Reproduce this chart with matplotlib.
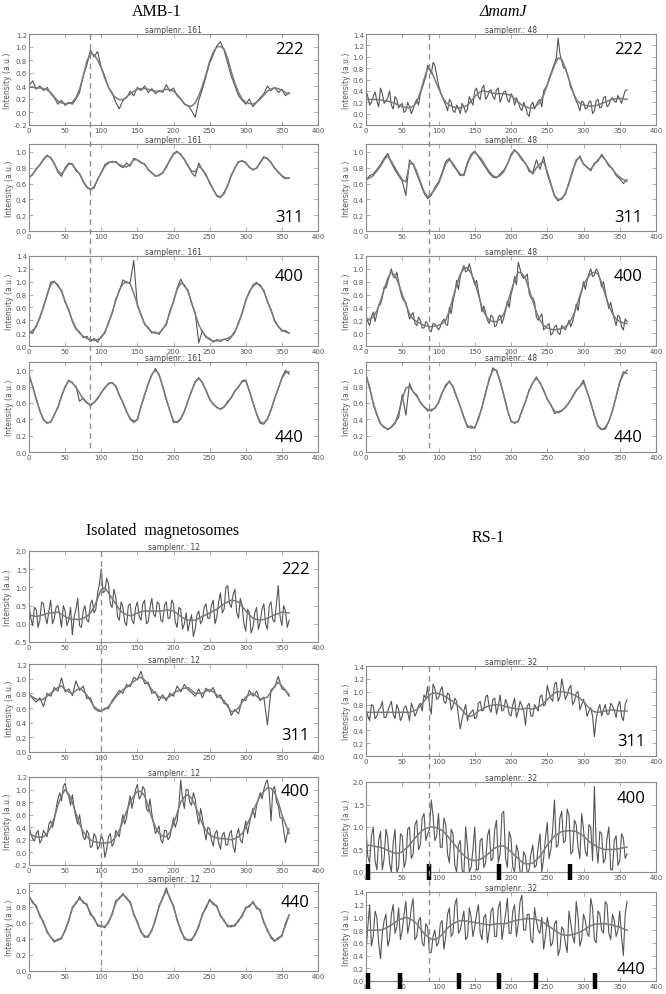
import numpy as np
import matplotlib
matplotlib.use('Agg')
import matplotlib.pyplot as plt
from matplotlib.lines import Line2D
from matplotlib.ticker import FuncFormatter, MultipleLocator

plt.rcParams['font.family'] = ['DejaVu Sans']
plt.rcParams['axes.unicode_minus'] = False

# ---------------- data (angle 0..360, noisy every 5 deg, fit every 5 deg) ----------------
# "_mid" arrays are the noisy samples in between (2.5, 7.5, ... 357.5 deg)

# AMB-1, samplenr.: 161
amb_222 = [0.40,0.48,0.35,0.40,0.33,0.38,0.28,0.22,0.12,0.18, 0.10,0.15,0.12,0.20,0.30,0.55,0.72,0.95,0.85,0.93,
           0.68,0.55,0.38,0.30,0.15,0.05,0.18,0.22,0.32,0.25, 0.38,0.33,0.40,0.30,0.36,0.28,0.33,0.30,0.42,0.32,
           0.37,0.25,0.20,0.12,0.10,0.02,-0.08,0.18,0.35,0.55, 0.75,0.88,1.02,1.08,0.95,0.75,0.55,0.40,0.25,0.18,
           0.12,0.20,0.08,0.15,0.22,0.28,0.40,0.33,0.38,0.30, 0.35,0.25,0.30]
amb_222_fit = [0.38,0.38,0.37,0.37,0.36,0.34,0.30,0.23,0.17,0.14, 0.13,0.13,0.15,0.22,0.35,0.55,0.78,0.90,0.88,0.80,
               0.68,0.52,0.38,0.28,0.22,0.19,0.19,0.23,0.28,0.32, 0.35,0.36,0.36,0.35,0.33,0.32,0.32,0.33,0.35,0.34,
               0.32,0.27,0.20,0.13,0.09,0.09,0.14,0.25,0.40,0.58, 0.78,0.92,1.00,1.01,0.97,0.82,0.62,0.44,0.30,0.20,
               0.15,0.13,0.12,0.15,0.20,0.26,0.32,0.35,0.37,0.36, 0.33,0.30,0.28]
amb_311 = [0.68,0.71,0.79,0.83,0.91,0.96,0.92,0.86,0.74,0.69, 0.80,0.86,0.85,0.76,0.73,0.62,0.55,0.53,0.54,0.66,
           0.73,0.84,0.87,0.87,0.88,0.83,0.80,0.86,0.82,0.92, 0.90,0.86,0.85,0.77,0.74,0.69,0.71,0.73,0.82,0.89,
           0.98,1.01,0.96,0.91,0.83,0.74,0.69,0.86,0.77,0.72, 0.60,0.53,0.44,0.42,0.49,0.57,0.71,0.79,0.88,0.88,
           0.87,0.80,0.78,0.79,0.87,0.94,0.91,0.87,0.79,0.75, 0.69,0.66,0.67]
amb_311_fit = [0.67,0.72,0.78,0.84,0.90,0.95,0.93,0.85,0.76,0.72, 0.78,0.85,0.84,0.78,0.72,0.63,0.56,0.52,0.56,0.65,
               0.74,0.82,0.86,0.88,0.87,0.84,0.82,0.81,0.84,0.90, 0.90,0.87,0.84,0.78,0.73,0.70,0.70,0.74,0.80,0.90,
               0.97,1.00,0.97,0.90,0.82,0.76,0.75,0.82,0.78,0.70, 0.62,0.52,0.45,0.43,0.47,0.58,0.70,0.80,0.87,0.89,
               0.86,0.81,0.77,0.80,0.86,0.93,0.92,0.86,0.80,0.74, 0.70,0.67,0.67]
amb_400 = [0.22,0.20,0.32,0.43,0.62,0.78,0.99,1.01,0.93,0.87, 0.68,0.57,0.38,0.26,0.22,0.13,0.15,0.07,0.12,0.06,
           0.15,0.20,0.37,0.50,0.73,0.85,1.03,0.98,0.99,1.33, 0.62,0.50,0.33,0.29,0.20,0.22,0.18,0.27,0.33,0.55,
           0.68,0.90,1.04,0.93,0.87,0.66,0.52,0.05,0.24,0.13, 0.12,0.06,0.10,0.07,0.11,0.08,0.14,0.21,0.37,0.50,
           0.72,0.83,0.95,0.99,0.93,0.87,0.68,0.57,0.38,0.31, 0.23,0.24,0.20]
amb_400_fit = [0.20,0.24,0.30,0.45,0.60,0.80,0.95,1.00,0.95,0.85, 0.70,0.55,0.40,0.28,0.20,0.15,0.12,0.10,0.09,0.10,
               0.13,0.22,0.35,0.52,0.70,0.87,0.97,1.00,0.97,0.82, 0.65,0.48,0.35,0.27,0.22,0.20,0.20,0.26,0.35,0.52,
               0.70,0.88,0.98,0.95,0.85,0.68,0.50,0.33,0.22,0.15, 0.10,0.08,0.08,0.09,0.10,0.12,0.15,0.23,0.35,0.52,
               0.70,0.85,0.93,0.97,0.95,0.85,0.70,0.55,0.40,0.30, 0.25,0.22,0.20]
amb_440 = [0.93,0.81,0.64,0.51,0.39,0.36,0.36,0.46,0.54,0.69, 0.79,0.88,0.84,0.80,0.62,0.66,0.61,0.56,0.61,0.65,
           0.73,0.78,0.84,0.85,0.81,0.69,0.61,0.49,0.41,0.38, 0.39,0.56,0.69,0.84,0.94,1.02,0.94,0.81,0.64,0.51,
           0.36,0.37,0.41,0.49,0.63,0.74,0.86,0.91,0.84,0.76, 0.64,0.59,0.54,0.53,0.55,0.62,0.66,0.75,0.79,0.87,
           0.88,0.74,0.61,0.46,0.35,0.34,0.41,0.51,0.66,0.77, 0.91,1.00,0.95]
amb_440_fit = [0.95,0.80,0.65,0.50,0.40,0.35,0.37,0.45,0.55,0.68, 0.80,0.87,0.85,0.79,0.72,0.65,0.60,0.58,0.60,0.66,
               0.72,0.79,0.83,0.85,0.80,0.70,0.60,0.50,0.40,0.36, 0.40,0.55,0.70,0.83,0.95,1.00,0.95,0.80,0.65,0.50,
               0.38,0.36,0.40,0.50,0.62,0.75,0.85,0.90,0.85,0.75, 0.65,0.58,0.55,0.52,0.55,0.60,0.67,0.74,0.80,0.86,
               0.87,0.75,0.60,0.47,0.37,0.35,0.40,0.52,0.65,0.78, 0.90,0.97,0.98]

# dmamJ, samplenr.: 48
mamj_222 = [0.40,0.15,0.30,0.22,0.45,0.18,0.28,0.15,0.30,0.10, 0.18,0.05,0.12,0.08,0.25,0.35,0.55,0.85,0.70,0.85,
            0.50,0.30,0.15,0.25,0.05,0.15,0.00,0.12,0.08,0.22, 0.40,0.30,0.45,0.25,0.40,0.30,0.42,0.20,0.38,0.25,
            0.35,0.15,0.20,0.05,0.12,-0.05,0.20,0.15,0.25,0.40, 0.50,0.70,0.88,1.33,0.92,0.80,0.60,0.40,0.22,0.05,
            0.20,0.10,0.22,0.05,0.25,0.12,0.30,0.15,0.28,0.20, 0.25,0.30,0.42]
mamj_222_mid = [0.30,0.20,0.38,0.12,0.35,0.22,0.40,0.08,0.25,0.15, 0.02,0.20,0.00,0.18,0.15,0.45,0.65,0.80,0.90,0.68,
                0.40,0.22,0.05,0.20,0.02,0.10,0.18,0.02,0.30,0.15, 0.45,0.25,0.50,0.30,0.42,0.25,0.45,0.30,0.40,0.20,
                0.30,0.28,0.10,0.20,0.00,0.15,0.08,0.22,0.12,0.45, 0.62,0.80,0.98,1.05,0.80,0.70,0.45,0.30,0.15,0.22,
                0.08,0.20,0.00,0.22,0.10,0.28,0.12,0.25,0.22,0.32, 0.18,0.40]
mamj_222_fit = [0.25,0.25,0.25,0.25,0.24,0.23,0.22,0.20,0.18,0.15, 0.12,0.11,0.10,0.13,0.20,0.38,0.60,0.80,0.75,0.60,
                0.45,0.30,0.20,0.15,0.12,0.10,0.10,0.12,0.15,0.22, 0.30,0.36,0.40,0.39,0.38,0.36,0.35,0.35,0.35,0.34,
                0.32,0.26,0.20,0.15,0.12,0.10,0.10,0.14,0.20,0.33, 0.50,0.68,0.85,0.98,0.95,0.80,0.60,0.40,0.25,0.18,
                0.15,0.14,0.13,0.14,0.15,0.18,0.20,0.23,0.25,0.26, 0.27,0.26,0.25]
mamj_311 = [0.64,0.70,0.72,0.78,0.84,0.92,0.98,0.86,0.77,0.70, 0.63,0.45,0.90,0.84,0.72,0.60,0.48,0.41,0.45,0.55,
            0.62,0.74,0.88,0.92,0.83,0.77,0.70,0.72,0.87,0.97, 1.01,0.94,0.87,0.80,0.73,0.68,0.67,0.72,0.77,0.84,
            0.97,1.03,0.97,0.90,0.86,0.75,0.74,0.90,0.78,0.94, 0.72,0.58,0.44,0.38,0.42,0.46,0.62,0.77,0.88,0.95,
            0.84,0.81,0.76,0.86,0.88,0.97,0.90,0.82,0.79,0.70, 0.66,0.60,0.65]
mamj_311_fit = [0.65,0.67,0.70,0.76,0.82,0.90,0.95,0.88,0.80,0.72, 0.65,0.62,0.85,0.85,0.75,0.62,0.50,0.43,0.47,0.53,
                0.60,0.72,0.85,0.90,0.85,0.78,0.72,0.70,0.85,0.95, 1.00,0.95,0.90,0.82,0.75,0.70,0.68,0.70,0.75,0.85,
                0.95,1.02,0.98,0.92,0.85,0.78,0.72,0.80,0.85,0.88, 0.75,0.60,0.45,0.40,0.40,0.48,0.60,0.75,0.90,0.93,
                0.85,0.80,0.78,0.84,0.90,0.95,0.90,0.84,0.78,0.72, 0.68,0.65,0.63]
mamj_400 = [0.28,0.12,0.33,0.30,0.45,0.72,0.80,1.00,0.86,0.80, 0.55,0.48,0.22,0.32,0.12,0.20,0.08,0.15,0.02,0.14,
            0.05,0.18,0.14,0.40,0.50,0.82,0.88,1.05,0.98,0.97, 0.75,0.65,0.33,0.32,0.15,0.25,0.12,0.28,0.24,0.50,
            0.60,0.88,1.10,0.90,0.88,0.62,0.55,0.25,0.25,0.05, 0.12,-0.03,0.10,0.00,0.12,0.05,0.20,0.18,0.45,0.55,
            0.80,0.82,1.00,0.90,0.95,0.72,0.65,0.38,0.35,0.12, 0.25,0.05,0.18]
mamj_400_mid = [0.18,0.25,0.18,0.42,0.55,0.70,0.90,0.88,0.95,0.65, 0.50,0.35,0.28,0.15,0.25,0.08,0.18,0.05,0.15,0.10,
                0.10,0.22,0.12,0.30,0.62,0.68,0.98,0.95,1.08,0.85, 0.82,0.50,0.42,0.20,0.28,0.10,0.25,0.15,0.35,0.40,
                0.70,0.75,1.00,0.85,0.92,0.55,0.48,0.20,0.30,0.08, 0.15,0.00,0.12,-0.02,0.08,0.12,0.10,0.30,0.35,0.65,
                0.68,0.92,0.88,1.00,0.85,0.80,0.50,0.48,0.22,0.28, 0.10,0.22]
mamj_400_fit = [0.20,0.22,0.25,0.35,0.50,0.68,0.85,0.95,0.90,0.77, 0.60,0.45,0.30,0.22,0.18,0.15,0.12,0.11,0.10,0.11,
                0.12,0.15,0.20,0.35,0.55,0.75,0.92,1.00,1.02,0.93, 0.80,0.60,0.40,0.28,0.20,0.18,0.18,0.22,0.30,0.45,
                0.65,0.82,0.95,0.93,0.85,0.68,0.50,0.33,0.20,0.12, 0.08,0.06,0.05,0.06,0.07,0.10,0.15,0.25,0.40,0.58,
                0.75,0.85,0.92,0.95,0.92,0.78,0.60,0.43,0.30,0.22, 0.18,0.16,0.15]
mamj_440 = [0.93,0.80,0.58,0.45,0.34,0.31,0.27,0.31,0.36,0.42, 0.70,0.45,0.84,0.73,0.70,0.60,0.56,0.50,0.52,0.53,
            0.61,0.73,0.80,0.87,0.79,0.67,0.56,0.43,0.30,0.32, 0.29,0.42,0.54,0.73,0.88,1.03,0.99,0.87,0.69,0.52,
            0.37,0.36,0.37,0.51,0.61,0.76,0.84,0.92,0.84,0.76, 0.64,0.58,0.47,0.49,0.51,0.54,0.61,0.67,0.76,0.80,
            0.88,0.73,0.61,0.44,0.31,0.27,0.30,0.37,0.51,0.67, 0.86,0.98,0.96]
mamj_440_fit = [0.95,0.78,0.60,0.46,0.35,0.30,0.28,0.30,0.35,0.48, 0.65,0.78,0.80,0.74,0.68,0.61,0.55,0.52,0.50,0.54,
                0.60,0.72,0.82,0.86,0.80,0.68,0.55,0.42,0.32,0.29, 0.30,0.40,0.55,0.72,0.90,1.00,1.00,0.86,0.70,0.52,
                0.38,0.35,0.38,0.50,0.62,0.75,0.85,0.90,0.85,0.75, 0.65,0.57,0.50,0.48,0.50,0.55,0.60,0.68,0.75,0.80,
                0.85,0.74,0.60,0.45,0.32,0.28,0.28,0.38,0.50,0.68, 0.85,0.95,1.00]

# Isolated magnetosomes, samplenr.: 12
iso_222 = [0.55,-0.05,0.40,0.10,0.55,0.00,0.65,0.15,0.50,-0.10, 0.35,0.10,-0.30,0.40,-0.05,0.35,0.10,0.55,0.30,0.85,
           1.50,0.90,1.10,0.45,0.75,0.10,0.45,-0.05,0.55,0.00, 0.60,0.10,0.65,0.05,0.70,0.20,0.55,0.05,0.60,0.15,
           0.55,-0.10,0.40,0.00,-0.20,0.25,-0.15,0.35,0.10,0.55, 0.15,0.65,0.20,0.85,0.40,1.05,0.45,0.95,0.15,0.50,
           -0.20,0.30,-0.10,0.45,0.05,0.55,-0.15,0.60,0.05,1.05, -0.05,0.35,0.10]
iso_222_mid = [0.15,0.45,-0.10,0.60,0.20,0.35,0.00,0.45,0.25,0.50, -0.05,0.45,0.20,0.70,-0.10,0.50,0.05,0.65,0.40,1.10,
               0.85,1.25,0.55,0.95,0.20,0.60,0.05,0.50,0.10,0.45, 0.20,0.55,0.00,0.45,0.25,0.60,0.10,0.50,0.15,0.65,
               0.05,0.45,-0.15,0.30,0.05,-0.35,0.25,0.00,0.45,0.15, 0.50,0.00,0.60,0.30,1.00,0.55,0.80,0.30,0.70,0.00,
               0.40,-0.25,0.30,-0.15,0.40,0.00,0.50,0.10,0.55,0.20, 0.50,-0.10]
iso_222_fit = [0.25,0.22,0.20,0.22,0.25,0.28,0.30,0.31,0.32,0.26, 0.20,0.15,0.12,0.12,0.12,0.15,0.20,0.30,0.45,0.70,
               0.95,1.00,0.85,0.70,0.55,0.40,0.30,0.25,0.22,0.25, 0.30,0.33,0.35,0.35,0.35,0.35,0.35,0.36,0.38,0.37,
               0.35,0.28,0.20,0.14,0.10,0.10,0.10,0.15,0.20,0.25, 0.30,0.35,0.40,0.48,0.55,0.60,0.65,0.63,0.60,0.48,
               0.35,0.25,0.15,0.12,0.10,0.12,0.15,0.20,0.25,0.28, 0.32,0.31,0.30]
iso_311 = [0.80,0.73,0.68,0.74,0.62,0.80,0.76,0.88,0.83,1.01, 0.82,0.86,0.77,0.97,0.84,0.90,0.73,0.74,0.60,0.56,
           0.55,0.60,0.59,0.70,0.77,0.84,0.80,0.92,0.89,1.02, 0.98,1.10,0.93,0.95,0.80,0.82,0.70,0.78,0.70,0.80,
           0.76,0.90,0.82,0.92,0.85,0.81,0.76,0.86,0.74,0.87, 0.82,0.88,0.74,0.78,0.66,0.65,0.50,0.58,0.52,0.72,
           0.70,0.84,0.76,0.83,0.70,0.75,0.37,0.85,0.88,1.03, 0.86,0.84,0.76]
iso_311_fit = [0.78,0.75,0.72,0.71,0.72,0.76,0.80,0.84,0.88,0.90, 0.85,0.82,0.80,0.84,0.87,0.83,0.78,0.70,0.62,0.58,
               0.56,0.58,0.62,0.68,0.75,0.80,0.85,0.88,0.92,0.96, 1.00,1.02,0.98,0.92,0.85,0.80,0.75,0.74,0.73,0.76,
               0.80,0.83,0.85,0.87,0.88,0.84,0.80,0.80,0.80,0.83, 0.85,0.82,0.78,0.74,0.70,0.62,0.55,0.56,0.60,0.68,
               0.75,0.78,0.80,0.76,0.72,0.73,0.75,0.82,0.90,0.95, 0.90,0.84,0.78]
iso_400 = [0.40,0.22,0.30,0.15,0.35,0.25,0.50,0.52,0.85,0.82, 1.10,0.90,0.92,0.55,0.60,0.25,0.35,0.08,0.30,0.05,
           0.28,-0.08,0.25,0.10,0.35,0.25,0.60,0.55,0.90,0.85, 1.08,0.90,1.00,0.65,0.62,0.30,0.42,0.15,0.35,0.25,
           0.55,0.50,1.15,0.70,1.00,0.75,0.85,0.45,0.55,0.20, 0.38,0.10,0.35,0.05,0.32,0.12,0.35,0.00,0.38,0.15,
           0.50,0.45,0.70,0.75,0.95,1.00,1.15,0.50,1.05,0.75, 0.55,0.15,0.38]
iso_400_mid = [0.30,0.18,0.35,0.20,0.30,0.45,0.40,0.70,0.95,1.05, 0.95,0.75,0.70,0.45,0.40,0.20,0.30,0.10,0.25,0.10,
               0.20,0.05,0.30,0.15,0.30,0.45,0.45,0.75,0.70,1.00, 0.85,1.05,0.70,0.85,0.45,0.35,0.20,0.35,0.20,0.40,
               0.40,0.75,0.85,1.00,0.80,0.95,0.60,0.70,0.35,0.40, 0.20,0.30,0.15,0.28,0.12,0.30,0.10,0.28,0.20,0.35,
               0.30,0.60,0.55,0.85,0.85,1.10,0.95,1.00,0.80,0.55, 0.35,0.30]
iso_400_fit = [0.30,0.27,0.25,0.24,0.25,0.30,0.40,0.55,0.75,0.90, 1.00,0.93,0.80,0.62,0.45,0.33,0.25,0.20,0.17,0.16,
               0.15,0.15,0.15,0.18,0.25,0.35,0.50,0.65,0.80,0.90, 0.97,0.97,0.90,0.73,0.55,0.40,0.30,0.26,0.25,0.32,
               0.45,0.62,0.80,0.88,0.92,0.86,0.75,0.60,0.45,0.35, 0.28,0.25,0.23,0.22,0.22,0.21,0.20,0.22,0.25,0.30,
               0.40,0.52,0.65,0.78,0.90,0.97,1.03,1.02,0.95,0.80, 0.60,0.45,0.30]
iso_440 = [0.95,0.85,0.82,0.68,0.62,0.48,0.43,0.36,0.40,0.40, 0.52,0.62,0.80,0.84,0.93,0.85,0.84,0.70,0.67,0.56,
           0.57,0.54,0.62,0.70,0.88,0.90,0.97,0.90,0.87,0.70, 0.62,0.48,0.44,0.42,0.52,0.63,0.82,0.90,1.04,0.90,
           0.82,0.63,0.52,0.40,0.39,0.38,0.47,0.55,0.72,0.78, 0.90,0.83,0.82,0.68,0.64,0.55,0.57,0.56,0.64,0.68,
           0.80,0.80,0.87,0.78,0.77,0.60,0.52,0.41,0.37,0.42, 0.43,0.60,0.70]
iso_440_fit = [0.92,0.87,0.80,0.70,0.60,0.50,0.42,0.38,0.38,0.42, 0.50,0.64,0.78,0.86,0.90,0.87,0.82,0.73,0.65,0.58,
               0.55,0.56,0.60,0.72,0.85,0.92,0.95,0.92,0.85,0.72, 0.60,0.50,0.42,0.44,0.50,0.65,0.80,0.92,1.00,0.92,
               0.80,0.65,0.50,0.42,0.38,0.40,0.45,0.57,0.70,0.80, 0.88,0.85,0.80,0.70,0.62,0.57,0.55,0.58,0.62,0.70,
               0.78,0.82,0.85,0.80,0.75,0.62,0.50,0.43,0.38,0.40, 0.45,0.57,0.70]

# RS-1, samplenr.: 32
rs_311 = [0.72,0.55,0.78,0.62,0.75,0.60,0.70,0.85,0.58,0.72, 0.62,0.78,0.55,0.74,0.68,0.82,0.95,1.08,0.65,1.05,
          0.90,1.08,0.82,0.95,0.78,0.85,0.42,0.70,0.55,0.68, 0.58,0.82,0.70,0.92,0.75,0.88,0.65,0.95,0.72,0.80,
          0.62,0.90,0.70,0.78,0.48,0.82,0.62,0.75,0.92,0.78, 1.10,0.90,1.12,0.85,1.20,0.88,1.05,0.80,0.98,0.72,
          0.88,0.62,0.75,0.30,0.72,0.62,0.80,0.65,0.78,0.60, 0.85,0.55,0.88]
rs_311_mid = [0.62,0.80,0.58,0.72,0.85,0.60,0.78,0.65,0.80,0.55, 0.75,0.68,0.82,0.62,0.78,0.70,0.90,0.80,1.12,0.88,
              1.02,0.85,0.98,0.72,0.90,0.62,0.58,0.80,0.65,0.72, 0.60,0.85,0.72,0.95,0.68,0.90,0.78,0.70,0.88,0.65,
              0.80,0.60,0.85,0.70,0.78,0.62,0.80,0.70,0.95,0.80, 0.98,0.85,1.15,0.92,1.05,0.95,1.10,0.85,1.00,0.80,
              0.78,0.70,0.62,0.58,0.80,0.72,0.65,0.82,0.70,0.78, 0.62,0.80]
rs_311_fit = [0.68,0.68,0.68,0.68,0.68,0.68,0.68,0.68,0.68,0.68, 0.68,0.68,0.68,0.70,0.72,0.78,0.85,0.92,0.97,0.98,
              0.97,0.95,0.92,0.88,0.85,0.80,0.75,0.68,0.62,0.62, 0.65,0.70,0.73,0.76,0.78,0.79,0.80,0.79,0.78,0.76,
              0.75,0.74,0.73,0.73,0.74,0.74,0.73,0.75,0.78,0.82, 0.88,0.93,0.98,1.00,1.00,0.99,0.98,0.96,0.93,0.90,
              0.85,0.78,0.72,0.69,0.68,0.69,0.70,0.71,0.72,0.71, 0.70,0.70,0.70]
rs_400 = [0.95,0.20,1.00,0.05,0.90,0.30,0.75,0.00,0.95,0.10, 0.80,0.25,1.00,0.40,1.15,0.60,1.30,0.85,1.60,0.70,
          1.30,0.55,1.05,0.20,0.85,0.00,0.70,-0.05,0.55,0.10, 1.00,0.05,0.75,0.20,0.95,0.30,1.15,0.40,1.35,0.10,
          0.75,0.00,0.45,-0.05,0.35,0.05,0.60,0.15,0.85,0.30, 1.10,0.50,1.60,0.60,1.35,0.70,1.25,0.45,1.05,0.30,
          0.95,0.35,1.00,1.90,0.20,0.85,0.30,1.00,0.05,0.80, 0.25,0.75,0.40]
rs_400_mid = [0.35,0.80,0.25,0.70,0.05,0.95,0.20,0.65,0.00,0.85, 0.10,0.95,0.30,1.05,0.50,1.20,0.70,0.95,1.25,0.80,
              0.55,1.20,0.40,0.95,0.15,0.60,0.05,1.00,0.00,0.50, 0.05,0.70,0.10,0.80,0.25,0.95,0.20,1.30,0.30,0.90,
              0.10,0.60,0.00,0.45,-0.05,0.40,0.10,0.55,0.00,0.75, 0.30,0.95,0.55,1.20,0.65,1.40,0.40,1.15,0.55,1.30,
              0.45,1.05,0.25,0.60,0.90,0.20,0.75,0.05,0.70,0.15, 0.85,0.30]
rs_400_fit = [0.60,0.59,0.58,0.56,0.55,0.52,0.48,0.45,0.42,0.42, 0.45,0.52,0.60,0.70,0.80,0.88,0.95,0.98,1.00,0.99,
              0.97,0.92,0.85,0.75,0.65,0.55,0.45,0.37,0.30,0.27, 0.25,0.27,0.30,0.36,0.42,0.50,0.55,0.58,0.58,0.52,
              0.45,0.37,0.30,0.22,0.18,0.18,0.20,0.27,0.35,0.47, 0.60,0.70,0.80,0.85,0.90,0.91,0.92,0.91,0.90,0.85,
              0.80,0.72,0.65,0.60,0.55,0.52,0.50,0.50,0.50,0.51, 0.52,0.54,0.55]
rs_440 = [0.45,1.20,0.70,1.00,0.35,0.95,0.55,1.05,0.75,1.15, 0.80,1.25,0.90,1.30,0.70,1.00,0.55,0.85,0.45,0.80,
          0.60,0.95,0.70,1.15,0.75,1.30,0.80,1.10,0.70,1.00, 0.85,1.20,0.65,1.05,0.80,1.15,0.70,1.25,0.85,1.30,
          0.75,1.20,0.90,1.35,0.80,1.05,0.60,0.95,0.75,0.50, 1.00,0.55,0.90,0.40,0.85,0.60,1.10,0.70,1.25,0.55,
          1.05,0.75,1.30,0.65,1.10,0.80,1.25,0.75,1.05,0.70, 1.10,0.40,1.25]
rs_440_mid = [0.85,0.55,1.10,0.60,0.75,1.05,0.65,1.20,0.85,0.65, 1.05,0.75,1.15,0.65,0.95,0.60,0.90,0.45,0.70,0.55,
              0.90,0.50,1.05,0.70,1.20,0.75,0.95,0.65,1.15,0.70, 1.05,0.75,1.00,0.60,1.10,0.70,1.15,0.65,1.05,0.75,
              1.10,0.70,1.25,0.80,1.05,0.65,1.15,0.80,1.00,0.70, 0.85,0.60,0.95,0.50,0.80,0.45,0.90,0.60,1.00,0.65,
              0.95,0.70,1.15,0.60,1.05,0.75,1.20,0.65,0.95,0.80, 0.70,1.05]
rs_440_fit = [0.80,0.80,0.80,0.80,0.80,0.82,0.85,0.88,0.92,0.96, 0.98,1.00,0.98,0.95,0.90,0.82,0.75,0.70,0.66,0.65,
              0.68,0.73,0.80,0.86,0.90,0.93,0.95,0.95,0.94,0.93, 0.92,0.91,0.90,0.89,0.88,0.89,0.90,0.90,0.90,0.91,
              0.93,0.95,0.96,0.97,0.98,0.98,0.98,0.97,0.95,0.92, 0.88,0.84,0.80,0.76,0.73,0.72,0.72,0.73,0.75,0.77,
              0.80,0.84,0.87,0.89,0.90,0.90,0.90,0.89,0.88,0.86, 0.85,0.82,0.80]

# black marker positions on the RS-1 panels
rs_400_marks = [3, 87, 184, 282]
rs_440_marks = [3, 47, 128, 183, 234, 316]

# dashed reference angle per sample
dash_amb, dash_mamj, dash_iso, dash_rs = 85, 87, 100, 87

# ---------------- figure ----------------
W, H = 666, 995
fig = plt.figure(figsize=(W / 100, H / 100), dpi=100)

NOISE_C = '#555555'
FIT_C = '#7a7a7a'
FRAME_C = '#8a8a8a'


def add_ax(left, top, right, bottom):
    return fig.add_axes([left / W, 1 - bottom / H, (right - left) / W, (bottom - top) / H])


def weave(main, mid):
    # put the in-between samples between the 5 deg samples
    out = np.empty(len(main) + len(mid))
    out[0::2] = main
    out[1::2] = mid
    return out


def panel(ax, noisy, fit, sample, ylim, ystep, label, lx, ly, strip_minus=False):
    ax.plot(np.linspace(0, 360, len(noisy)), noisy, color=NOISE_C, lw=0.8)
    ax.plot(np.linspace(0, 360, len(fit)), fit, color=FIT_C, lw=1.1)
    ax.set_xlim(0, 400)
    ax.set_ylim(*ylim)
    ax.xaxis.set_major_locator(MultipleLocator(50))
    ax.yaxis.set_major_locator(MultipleLocator(ystep))
    if strip_minus:
        ax.yaxis.set_major_formatter(FuncFormatter(lambda v, p: '%.1f' % abs(v)))
    else:
        ax.yaxis.set_major_formatter(FuncFormatter(lambda v, p: '%.1f' % v))
    ax.tick_params(direction='in', top=True, right=True, length=3, width=0.5,
                   colors=FRAME_C, labelsize=5, labelcolor='#555555', pad=1.5)
    for s in ax.spines.values():
        s.set_color(FRAME_C)
        s.set_linewidth(0.8)
    ax.set_title('samplenr.: %d' % sample, fontsize=5.5, color='#444444', pad=1.2)
    ax.set_ylabel('Intensity (a.u.)', fontsize=5.5, color='#555555', labelpad=1)
    ax.text(lx, ly, label, transform=ax.transAxes, fontsize=12, family='Open Sans',
            ha='center', va='center', color='black')


def marks(ax, xs):
    ax.plot(xs, [0] * len(xs), ls='none', marker='|', ms=11, mew=3.2, color='black',
            transform=ax.get_xaxis_transform(), clip_on=False, zorder=5)


def dashed(axes, xd):
    fig.canvas.draw()
    inv = fig.transFigure.inverted()
    xf = inv.transform(axes[0].transData.transform((xd, 0)))[0]
    top = axes[0].get_position().y1
    bot = axes[-1].get_position().y0
    fig.add_artist(Line2D([xf, xf], [top, bot], transform=fig.transFigure,
                          color='#8f8f8f', lw=1.0, ls=(0, (4, 3))))


LX = (29, 318)
RX = (366, 656)
rows_top = [(35, 126), (145, 232), (257, 347), (363, 453)]
rows_iso = [(552, 643), (665, 753), (778, 866), (884, 972)]
rows_rs = [(667, 757), (783, 873), (893, 982)]

# AMB-1
amb_axes = [add_ax(LX[0], t, LX[1], b) for t, b in rows_top]
panel(amb_axes[0], amb_222, amb_222_fit, 161, (-0.2, 1.2), 0.2, '222', 0.90, 0.83)
panel(amb_axes[1], amb_311, amb_311_fit, 161, (0.0, 1.1), 0.2, '311', 0.90, 0.16)
panel(amb_axes[2], amb_400, amb_400_fit, 161, (0.0, 1.4), 0.2, '400', 0.90, 0.78)
panel(amb_axes[3], amb_440, amb_440_fit, 161, (0.0, 1.1), 0.2, '440', 0.90, 0.17)

# dmamJ
mamj_axes = [add_ax(RX[0], t, RX[1], b) for t, b in rows_top]
panel(mamj_axes[0], weave(mamj_222, mamj_222_mid), mamj_222_fit, 48, (-0.2, 1.4), 0.2, '222', 0.905, 0.83, True)
panel(mamj_axes[1], mamj_311, mamj_311_fit, 48, (0.0, 1.1), 0.2, '311', 0.905, 0.16)
panel(mamj_axes[2], weave(mamj_400, mamj_400_mid), mamj_400_fit, 48, (-0.2, 1.2), 0.2, '400', 0.905, 0.78, True)
panel(mamj_axes[3], mamj_440, mamj_440_fit, 48, (0.0, 1.1), 0.2, '440', 0.905, 0.17)

# Isolated magnetosomes
iso_axes = [add_ax(LX[0], t, LX[1], b) for t, b in rows_iso]
panel(iso_axes[0], weave(iso_222, iso_222_mid), iso_222_fit, 12, (-0.5, 2.0), 0.5, '222', 0.92, 0.80)
panel(iso_axes[1], iso_311, iso_311_fit, 12, (0.0, 1.2), 0.2, '311', 0.92, 0.19)
panel(iso_axes[2], weave(iso_400, iso_400_mid), iso_400_fit, 12, (-0.2, 1.2), 0.2, '400', 0.92, 0.84)
panel(iso_axes[3], iso_440, iso_440_fit, 12, (0.0, 1.1), 0.2, '440', 0.92, 0.78)

# RS-1
rs_axes = [add_ax(RX[0], t, RX[1], b) for t, b in rows_rs]
panel(rs_axes[0], weave(rs_311, rs_311_mid), rs_311_fit, 32, (0.0, 1.4), 0.2, '311', 0.915, 0.17)
panel(rs_axes[1], weave(rs_400, rs_400_mid), rs_400_fit, 32, (0.0, 2.0), 0.5, '400', 0.915, 0.82)
panel(rs_axes[2], weave(rs_440, rs_440_mid), rs_440_fit, 32, (0.0, 1.4), 0.2, '440', 0.915, 0.13)
marks(rs_axes[1], rs_400_marks)
marks(rs_axes[2], rs_440_marks)

dashed(amb_axes, dash_amb)
dashed(mamj_axes, dash_mamj)
dashed(iso_axes, dash_iso)
dashed(rs_axes, dash_rs)

serif = dict(family='Liberation Serif', fontsize=11.5, ha='center', va='center')
fig.text(157 / W, 1 - 12 / H, 'AMB-1', **serif)
fig.text(503 / W, 1 - 12 / H, 'ΔmamJ', style='italic', **serif)
fig.text(163 / W, 1 - 531 / H, 'Isolated  magnetosomes', **serif)
fig.text(488 / W, 1 - 538 / H, 'RS-1', **serif)

fig.savefig('out.png', dpi=100)
